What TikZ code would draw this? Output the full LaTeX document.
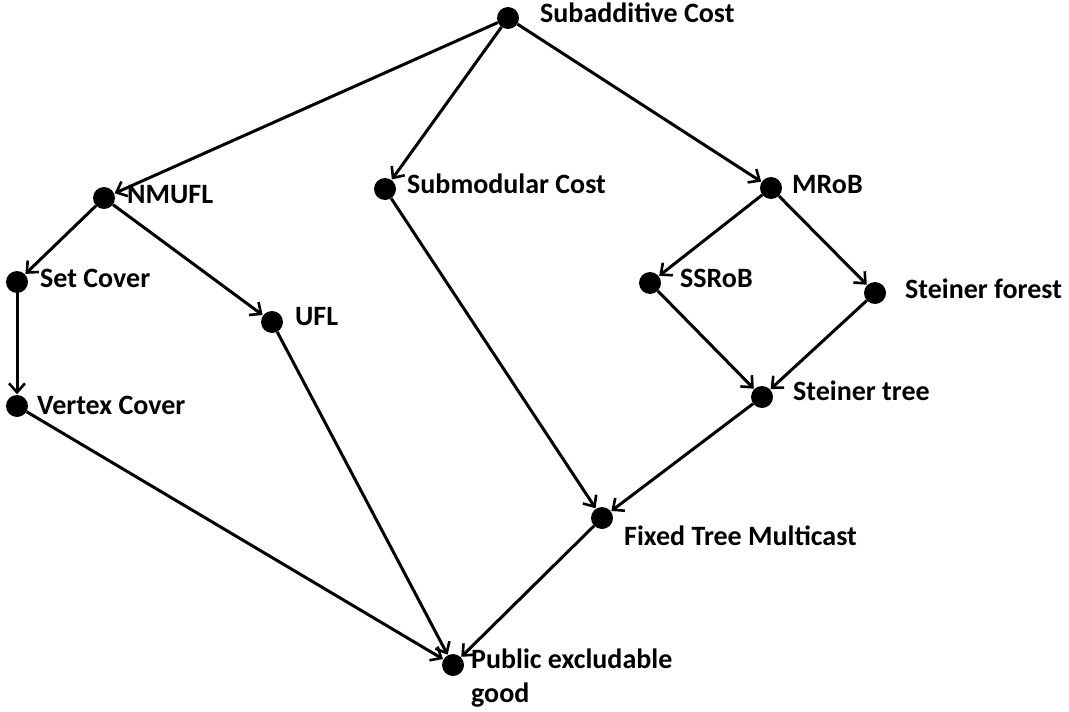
\documentclass[tikz,border=0pt]{standalone}
\usepackage{fontspec}
\setmainfont{Carlito}
\usetikzlibrary{arrows.meta}
\tikzset{
  dot/.style={circle,fill=black,inner sep=0pt,minimum size=22pt},
  lbl/.style={anchor=base west,font=\bfseries\fontsize{28}{34}\selectfont,inner sep=0pt,align=left},
  edge/.style={line width=3pt,-{Straight Barb[length=9pt,width=16pt,line width=2.6pt]},shorten >=0.5pt}
}
\begin{document}
\begin{tikzpicture}[x=1pt,y=-1pt]
\useasboundingbox (0,0) rectangle (1069,712);
\node[dot] (sub) at (508,18) {};
\node[dot] (nmufl) at (104,198) {};
\node[dot] (smod) at (385,189) {};
\node[dot] (mrob) at (771,188) {};
\node[dot] (sc) at (17,282) {};
\node[dot] (ufl) at (272,322) {};
\node[dot] (ssrob) at (650,283) {};
\node[dot] (sf) at (875,293) {};
\node[dot] (vc) at (17,406) {};
\node[dot] (st) at (762,397) {};
\node[dot] (ftm) at (602,518) {};
\node[dot] (peg) at (453,665) {};

\node[lbl] (lsub) at (540,22) {Subadditive Cost};
\node[lbl] (lnmufl) at (127,203) {NMUFL};
\node[lbl] (lsmod) at (407,193) {Submodular Cost};
\node[lbl] (lmrob) at (792,193) {MRoB};
\node[lbl] (lsc) at (40,287) {Set Cover};
\node[lbl] (lufl) at (295,325) {UFL};
\node[lbl] (lssrob) at (680,287) {SSRoB};
\node[lbl] (lsf) at (905,298) {Steiner forest};
\node[lbl] (lvc) at (37,414) {Vertex Cover};
\node[lbl] (lst) at (793,400) {Steiner tree};
\node[lbl] (lftm) at (624,545) {Fixed Tree Multicast};
\node[lbl,anchor=north west] (lpeg) at (471,649) {Public excludable\\good};

\draw[edge] (sub) -- (nmufl);
\draw[edge] (sub) -- (smod);
\draw[edge] (sub) -- (mrob);
\draw[edge] (nmufl) -- (sc);
\draw[edge] (nmufl) -- (ufl);
\draw[edge] (sc) -- (vc);
\draw[edge] (mrob) -- (ssrob);
\draw[edge] (mrob) -- (sf);
\draw[edge] (ssrob) -- (st);
\draw[edge] (sf) -- (st);
\draw[edge] (smod) -- (ftm);
\draw[edge] (st) -- (ftm);
\draw[edge] (vc) -- (peg);
\draw[edge] (ufl) -- (peg);
\draw[edge] (ftm) -- (peg);
\end{tikzpicture}
\end{document}
